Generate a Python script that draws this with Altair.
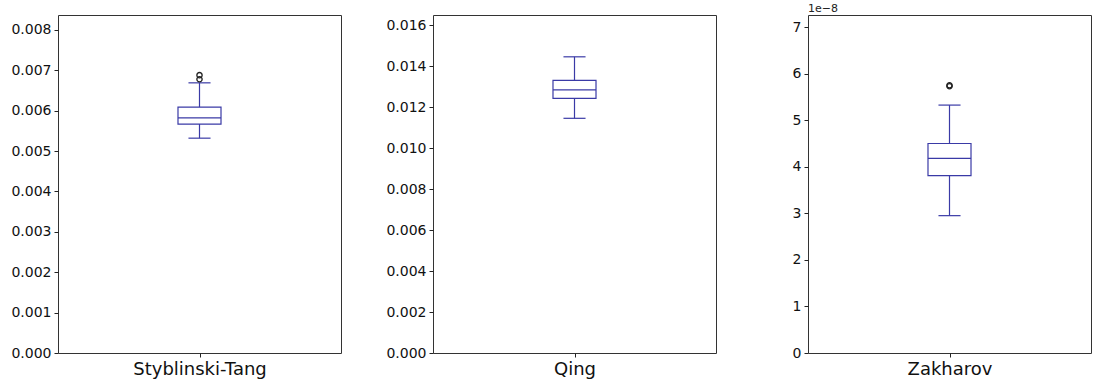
import altair as alt
import pandas as pd

# Box-plot summary per benchmark function
functions = ["Styblinski-Tang", "Qing", "Zakharov"]
lower_whisker = [0.00532, 0.01145, 2.95e-8]
first_quartile = [0.00567, 0.01242, 3.81e-8]
medians = [0.00582, 0.01284, 4.18e-8]
third_quartile = [0.00609, 0.01330, 4.50e-8]
upper_whisker = [0.00669, 0.01445, 5.325e-8]
outlier_values = [[0.00678, 0.00688], [], [5.73e-8, 5.75e-8]]

# Axis ranges and tick positions
y_limits = [0.00837, 0.01649, 7.26e-8]
y_ticks = [
    [0.0, 0.001, 0.002, 0.003, 0.004, 0.005, 0.006, 0.007, 0.008],
    [0.0, 0.002, 0.004, 0.006, 0.008, 0.010, 0.012, 0.014, 0.016],
    [0.0, 1e-8, 2e-8, 3e-8, 4e-8, 5e-8, 6e-8, 7e-8],
]
y_label_expr = [
    "format(datum.value, '.3f')",
    "format(datum.value, '.3f')",
    "format(datum.value * 1e8, 'd')",
]
offset_text = [None, None, "1e\u22128"]

BOX = "#3a3aa6"
W, H = 283, 338
BOX_HALF = 0.076
CAP_HALF = 0.039


def panel(i):
    stats = pd.DataFrame({
        "lo": [lower_whisker[i]],
        "q1": [first_quartile[i]],
        "med": [medians[i]],
        "q3": [third_quartile[i]],
        "hi": [upper_whisker[i]],
    })
    xs = alt.Scale(domain=[0, 1], nice=False, zero=False)
    ys = alt.Scale(domain=[0, y_limits[i]], nice=False, zero=False)
    x_axis = alt.Axis(
        values=[0.5], labelExpr=f"'{functions[i]}'", title=None, grid=False,
        domain=False, tickSize=4, labelFontSize=18, labelPadding=3,
    )
    y_axis = alt.Axis(
        values=y_ticks[i], labelExpr=y_label_expr[i], title=None, grid=False,
        domain=False, tickSize=4, labelFontSize=14, labelPadding=3,
    )

    def X(v):
        return alt.X(datum=v, type="quantitative", scale=xs, axis=x_axis)

    def Y(field):
        return alt.Y(field, type="quantitative", scale=ys, axis=y_axis)

    base = alt.Chart(stats)
    box = base.mark_bar(fill="white", stroke=BOX, strokeWidth=1.2).encode(
        x=X(0.5 - BOX_HALF), x2=alt.X2(datum=0.5 + BOX_HALF),
        y=Y("q1"), y2=alt.Y2("q3"))
    med = base.mark_rule(color=BOX, strokeWidth=1.2).encode(
        x=X(0.5 - BOX_HALF), x2=alt.X2(datum=0.5 + BOX_HALF), y=Y("med"))
    whisk_up = base.mark_rule(color=BOX, strokeWidth=1.2).encode(
        x=X(0.5), y=Y("q3"), y2=alt.Y2("hi"))
    whisk_dn = base.mark_rule(color=BOX, strokeWidth=1.2).encode(
        x=X(0.5), y=Y("q1"), y2=alt.Y2("lo"))
    cap_up = base.mark_rule(color=BOX, strokeWidth=1.2).encode(
        x=X(0.5 - CAP_HALF), x2=alt.X2(datum=0.5 + CAP_HALF), y=Y("hi"))
    cap_dn = base.mark_rule(color=BOX, strokeWidth=1.2).encode(
        x=X(0.5 - CAP_HALF), x2=alt.X2(datum=0.5 + CAP_HALF), y=Y("lo"))
    layers = [box, med, whisk_up, whisk_dn, cap_up, cap_dn]

    if outlier_values[i]:
        fl = pd.DataFrame({"v": outlier_values[i]})
        layers.append(
            alt.Chart(fl).mark_point(shape="circle", filled=False, color="#222222",
                                     size=28, strokeWidth=1.3, opacity=1)
            .encode(x=X(0.5), y=Y("v"))
        )
    if offset_text[i]:
        t = pd.DataFrame({"t": [offset_text[i]]})
        layers.append(
            alt.Chart(t).mark_text(align="left", baseline="alphabetic", fontSize=11,
                                   color="#222222")
            .encode(x=alt.value(0), y=alt.value(-3), text="t:N")
        )
    return alt.layer(*layers).properties(width=W, height=H)


chart = (
    alt.hconcat(*[panel(i) for i in range(3)], spacing=92, bounds="flush")
    .properties(padding={"left": 10, "top": 2, "right": 2, "bottom": 2})
    .configure(font="DejaVu Sans")
    .configure_view(stroke="#333333", strokeWidth=1)
    .configure_axis(labelColor="#111111", tickColor="#222222", labelFont="DejaVu Sans")
)

chart.save("out.html", embed_options={"renderer": "svg", "actions": False})
